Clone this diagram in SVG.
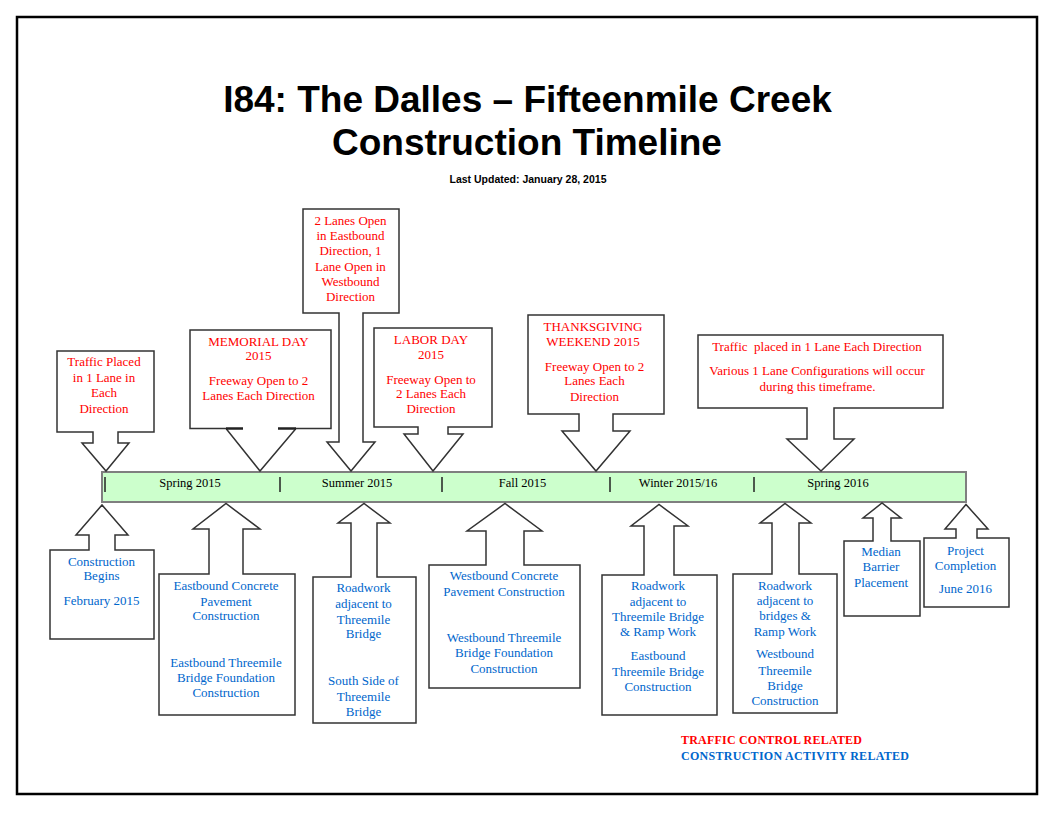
<svg xmlns="http://www.w3.org/2000/svg" width="1056" height="816" viewBox="0 0 1056 816">
<style>
.frame{fill:#fff;stroke:#000;stroke-width:2.5}
.co{fill:#fff;stroke:#333;stroke-width:1.5;stroke-linejoin:miter}
.r{font-family:"Liberation Serif","Times New Roman",serif;font-size:13px;fill:#ff0000;text-anchor:middle}
.b{font-family:"Liberation Serif","Times New Roman",serif;font-size:13px;fill:#0066cc;text-anchor:middle}
.t{font-family:"Liberation Serif","Times New Roman",serif;font-size:12.5px;fill:#000;text-anchor:middle}
.title{font-family:"Liberation Sans",Arial,sans-serif;font-weight:bold;font-size:37px;fill:#000;text-anchor:middle}
.sub{font-family:"Liberation Sans",Arial,sans-serif;font-weight:bold;font-size:10.5px;fill:#000;text-anchor:middle}
.lg{font-family:"Liberation Serif","Times New Roman",serif;font-weight:bold;font-size:12px}
.tick{stroke:#222;stroke-width:1.5}
</style>
<rect x="0" y="0" width="1056" height="816" fill="#fff"/>
<rect class="frame" x="17" y="17" width="1020" height="777"/>

<g id="title">
<text class="title" x="527.5" y="112">I84: The Dalles – Fifteenmile Creek</text>
<text class="title" x="527" y="155">Construction Timeline</text>
<text class="sub" x="528" y="183">Last Updated: January 28, 2015</text>
</g>

<g id="timeline">
<rect x="102" y="472" width="864" height="30" fill="#ccffcc" stroke="#7f7f7f" stroke-width="2"/>
<line class="tick" x1="105" y1="477" x2="105" y2="492"/>
<line class="tick" x1="280" y1="477" x2="280" y2="492"/>
<line class="tick" x1="442" y1="477" x2="442" y2="492"/>
<line class="tick" x1="610" y1="477" x2="610" y2="492"/>
<line class="tick" x1="754" y1="477" x2="754" y2="492"/>
<text class="t" x="190" y="487">Spring 2015</text>
<text class="t" x="357" y="487">Summer 2015</text>
<text class="t" x="522.5" y="487">Fall 2015</text>
<text class="t" x="678" y="487">Winter 2015/16</text>
<text class="t" x="838" y="487">Spring 2016</text>
</g>

<g id="connectors"></g>

<g id="traffic-placed">
<path class="co" d="M57,351 H154 V432 H118 V443 H129 L106,471 L82,443 H93 V432 H57 Z"/>
<text class="r" x="104" y="366">Traffic Placed</text>
<text class="r" x="104" y="382">in 1 Lane in</text>
<text class="r" x="104" y="397">Each</text>
<text class="r" x="104" y="413">Direction</text>
</g>

<g id="memorial-day">
<path class="co" d="M190,330 H331 V428.5 H296 L260,471 L226,428.5 H190 Z"/>
<line x1="226" y1="428.5" x2="243" y2="428.5" stroke="#222" stroke-width="2.5"/>
<line x1="278" y1="428.5" x2="296" y2="428.5" stroke="#222" stroke-width="2.5"/>
<text class="r" x="258.5" y="346">MEMORIAL DAY</text>
<text class="r" x="258.5" y="360">2015</text>
<text class="r" x="258.5" y="384.5">Freeway Open to 2</text>
<text class="r" x="258.5" y="400">Lanes Each Direction</text>
</g>

<g id="two-lanes-open">
<path class="co" d="M303,209 H399 V313 H363 V442 H375 L351,471 L327,442 H339 V313 H303 Z"/>
<text class="r" x="350.5" y="225">2 Lanes Open</text>
<text class="r" x="350.5" y="240">in Eastbound</text>
<text class="r" x="350.5" y="255">Direction, 1</text>
<text class="r" x="350.5" y="271">Lane Open in</text>
<text class="r" x="350.5" y="286">Westbound</text>
<text class="r" x="350.5" y="301">Direction</text>
</g>

<g id="labor-day">
<path class="co" d="M374,328 H492 V427 H448 V434 H463 L433,471 L404,434 H418 V427 H374 Z"/>
<text class="r" x="431" y="344">LABOR DAY</text>
<text class="r" x="431" y="359">2015</text>
<text class="r" x="431" y="383.5">Freeway Open to</text>
<text class="r" x="431" y="398">2 Lanes Each</text>
<text class="r" x="431" y="413">Direction</text>
</g>

<g id="thanksgiving">
<path class="co" d="M528,315 H664 V414 H613 V431 H630 L596,471 L562,431 H579 V414 H528 Z"/>
<text class="r" x="593" y="330.5">THANKSGIVING</text>
<text class="r" x="593" y="346">WEEKEND 2015</text>
<text class="r" x="594.5" y="370.5">Freeway Open to 2</text>
<text class="r" x="594.5" y="385">Lanes Each</text>
<text class="r" x="594.5" y="400.5">Direction</text>
</g>

<g id="traffic-one-lane">
<path class="co" d="M698,335 H943 V408 H834 V439 H854 L821,471 L787,439 H807 V408 H698 Z"/>
<text class="r" x="817" y="351" xml:space="preserve">Traffic  placed in 1 Lane Each Direction</text>
<text class="r" x="817" y="374.5">Various 1 Lane Configurations will occur</text>
<text class="r" x="817.5" y="390.5">during this timeframe.</text>
</g>

<g id="construction-begins">
<path class="co" d="M50,639 H154 V550 H115 V535 H128 L102,505 L76,535 H89 V550 H50 Z"/>
<text class="b" x="101.5" y="565.5">Construction</text>
<text class="b" x="101.5" y="580">Begins</text>
<text class="b" x="101.5" y="604.5">February 2015</text>
</g>

<g id="eastbound-concrete">
<path class="co" d="M159,715 H295 V574 H243 V529 H260 L226,503.5 L193,529 H209 V574 H159 Z"/>
<text class="b" x="226" y="589.5">Eastbound Concrete</text>
<text class="b" x="226" y="605.5">Pavement</text>
<text class="b" x="226" y="620">Construction</text>
<text class="b" x="226" y="667">Eastbound Threemile</text>
<text class="b" x="226" y="682">Bridge Foundation</text>
<text class="b" x="226" y="697">Construction</text>
</g>

<g id="roadwork-south">
<path class="co" d="M313,723 H416 V577 H377 V523 H390 L364,503.5 L338,523 H351 V577 H313 Z"/>
<text class="b" x="363.5" y="592">Roadwork</text>
<text class="b" x="363.5" y="607.5">adjacent to</text>
<text class="b" x="363.5" y="623.5">Threemile</text>
<text class="b" x="363.5" y="638">Bridge</text>
<text class="b" x="363.5" y="685">South Side of</text>
<text class="b" x="363.5" y="700.5">Threemile</text>
<text class="b" x="363.5" y="715.5">Bridge</text>
</g>

<g id="westbound-concrete">
<path class="co" d="M429,688 H580 V565 H524 V531 H542 L505,503.5 L467,531 H486 V565 H429 Z"/>
<text class="b" x="504" y="580">Westbound Concrete</text>
<text class="b" x="504" y="595.5">Pavement Construction</text>
<text class="b" x="504" y="642">Westbound Threemile</text>
<text class="b" x="504" y="657">Bridge Foundation</text>
<text class="b" x="504" y="672.5">Construction</text>
</g>

<g id="roadwork-eastbound">
<path class="co" d="M602,715 H717 V575 H674 V526 H688 L659,504.5 L631,526 H644 V575 H602 Z"/>
<text class="b" x="658" y="590">Roadwork</text>
<text class="b" x="658" y="605.5">adjacent to</text>
<text class="b" x="658" y="621">Threemile Bridge</text>
<text class="b" x="658" y="636">&amp; Ramp Work</text>
<text class="b" x="658" y="659.5">Eastbound</text>
<text class="b" x="658" y="675.5">Threemile Bridge</text>
<text class="b" x="658" y="690.5">Construction</text>
</g>

<g id="roadwork-bridges">
<path class="co" d="M733,713 H837 V574 H799 V523 H811 L785,503.5 L760,523 H772 V574 H733 Z"/>
<text class="b" x="785" y="589.5">Roadwork</text>
<text class="b" x="785" y="605">adjacent to</text>
<text class="b" x="785" y="619.5">bridges &amp;</text>
<text class="b" x="785" y="635.5">Ramp Work</text>
<text class="b" x="785" y="658">Westbound</text>
<text class="b" x="785" y="674.5">Threemile</text>
<text class="b" x="785" y="689.5">Bridge</text>
<text class="b" x="785" y="704.5">Construction</text>
</g>

<g id="median-barrier">
<path class="co" d="M844,616 H920 V541 H891 V518 H901 L882,503 L863,518 H873 V541 H844 Z"/>
<text class="b" x="881" y="556">Median</text>
<text class="b" x="881" y="571">Barrier</text>
<text class="b" x="881" y="587">Placement</text>
</g>

<g id="project-completion">
<path class="co" d="M924,607 H1009 V538 H977 V529 H988 L966,504.5 L945,529 H956 V538 H924 Z"/>
<text class="b" x="965.5" y="554.5">Project</text>
<text class="b" x="965.5" y="569.5">Completion</text>
<text class="b" x="965.5" y="592.5">June 2016</text>
</g>

<g id="legend">
<text class="lg" x="681" y="743.5" fill="#ff0000" textLength="181" lengthAdjust="spacing">TRAFFIC  CONTROL RELATED</text>
<text class="lg" x="681" y="759.5" fill="#0066cc" textLength="228" lengthAdjust="spacing">CONSTRUCTION  ACTIVITY  RELATED</text>
</g>
</svg>
